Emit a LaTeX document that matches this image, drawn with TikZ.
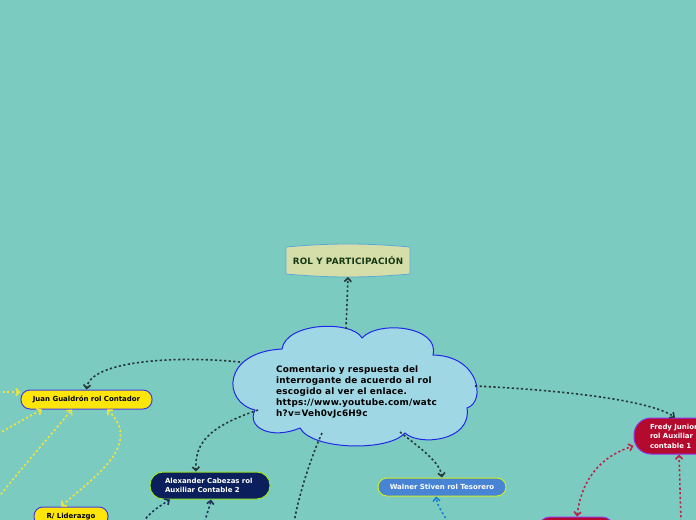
\documentclass[tikz,border=0pt]{standalone}
\usepackage{fontspec}
\setmainfont{DejaVu Sans}
\usetikzlibrary{arrows.meta}
\definecolor{bgc}{RGB}{124,203,192}
\definecolor{cloudfill}{RGB}{160,215,228}
\definecolor{cloudline}{RGB}{32,40,230}
\definecolor{rolfill}{RGB}{213,221,168}
\definecolor{rolline}{RGB}{90,170,215}
\definecolor{roltext}{RGB}{20,55,20}
\definecolor{yel}{RGB}{255,230,10}
\definecolor{yelline}{RGB}{70,60,220}
\definecolor{navy}{RGB}{10,31,92}
\definecolor{navyline}{RGB}{150,230,40}
\definecolor{bluen}{RGB}{72,132,212}
\definecolor{bluenline}{RGB}{205,235,40}
\definecolor{crim}{RGB}{180,10,45}
\definecolor{crimline}{RGB}{150,50,230}
\definecolor{darkc}{RGB}{38,56,58}
\definecolor{yelc}{RGB}{240,228,60}
\definecolor{navyc}{RGB}{30,50,90}
\definecolor{bluec}{RGB}{30,130,200}
\definecolor{crimc}{RGB}{190,35,75}
\tikzset{
  conn/.style={line width=1.6bp, dash pattern=on 2.2bp off 2.4bp},
  tip/.style={-{Straight Barb[length=3.5bp,width=7bp,line width=1.6bp]}},
  tips/.style={{Straight Barb[length=3.5bp,width=7bp,line width=1.6bp]}-{Straight Barb[length=3.5bp,width=7bp,line width=1.6bp]}},
  pill/.style={draw, line width=1bp, inner sep=0pt, font=\fontsize{7}{9.5}\selectfont\bfseries},
}
\begin{document}
\begin{tikzpicture}[x=1bp,y=-1bp]
\useasboundingbox (0,0) rectangle (696,520);
\fill[bgc] (0,0) rectangle (696,520);

% cloud
\draw[fill=cloudfill, draw=cloudline, line width=1bp]
  (255,410) .. controls (222,402) and (222,352) .. (282,349)
  .. controls (286,322) and (352,320) .. (362,338)
  .. controls (378,320) and (440,326) .. (433,355)
  .. controls (480,356) and (486,402) .. (467,408)
  .. controls (472,442) and (418,446) .. (405,433)
  .. controls (388,452) and (312,450) .. (300,428)
  .. controls (272,440) and (246,428) .. (255,410) -- cycle;
\node[anchor=north west, inner sep=0pt, align=left, font=\fontsize{8.9}{11}\selectfont\bfseries\addfontfeature{LetterSpace=2}] (cloudtext) at (276,365.5)
  {Comentario y respuesta del\\interrogante de acuerdo al rol\\escogido al ver el enlace.\\https://www.youtube.com/watc\\h?v=Veh0vJc6H9c};
\coordinate (ctop) at (346,329);
\coordinate (cleft) at (240,362);
\coordinate (cbl) at (258,410);
\coordinate (cbr) at (400,432);
\coordinate (cright) at (475,386);
\coordinate (cbot) at (322,433);

% ROL box
\draw[fill=rolfill, draw=rolline, line width=0.8bp]
  (286,247) .. controls (330,243) and (366,243) .. (410,247) -- (410,274)
  .. controls (366,278) and (330,278) .. (286,274) -- cycle;
\node[font=\fontsize{8.8}{9}\selectfont\bfseries\addfontfeature{LetterSpace=2.5}, text=roltext] (rol) at (348,260.5) {ROL Y PARTICIPACIÓN};
\coordinate (rolb) at (348,277);

% nodes
\node[pill, fill=yel, draw=yelline, minimum width=131bp, minimum height=19bp, rounded corners=9bp] (juan) at (86.5,399.5) {Juan Gualdrón rol Contador};
\node[pill, fill=navy, draw=navyline, text=white, minimum width=120bp, minimum height=27bp, rounded corners=13bp, align=left, text width=90bp] (alex) at (210,485.5) {Alexander Cabezas rol\\Auxiliar Contable 2};
\node[pill, fill=bluen, draw=bluenline, text=white, minimum width=128bp, minimum height=18bp, rounded corners=9bp] (walner) at (442,487) {Walner Stiven rol Tesorero};
\node[pill, fill=crim, draw=crimline, text=white, minimum width=90bp, minimum height=36bp, rounded corners=17bp, align=left, text width=58bp] (fredy) at (679,436) {Fredy Junior\\rol Auxiliar\\contable 1};
\node[pill, fill=yel, draw=yelline, minimum width=74bp, minimum height=19bp, rounded corners=9bp] (lider) at (71,516.5) {R/ Liderazgo};
\node[pill, fill=crim, draw=crimline, minimum width=76bp, minimum height=26bp, rounded corners=12bp] (crim2) at (576,530) {};

% dark connectors from cloud
\draw[conn, darkc, tip] (ctop) -- (rolb);
\draw[conn, darkc, tip] (cleft) .. controls (170,355) and (90,362) .. (juan.north);
\draw[conn, darkc, tip] (cbl) .. controls (205,428) and (195,445) .. (alex.north -| 196,0);
\draw[conn, darkc, tip] (cbr) .. controls (420,448) and (440,462) .. (walner.north);
\draw[conn, darkc, tip] (cright) .. controls (560,390) and (650,400) .. (fredy.north -| 675,0);
\coordinate (e1) at (294,522);
\draw[conn, darkc] (cbot) .. controls (312,455) and (300,490) .. (e1);

% yellow connectors
\coordinate (y1) at (-2,392);
\coordinate (y2) at (-2,434);
\coordinate (y3) at (-2,498);
\draw[conn, yelc, tip] (y1) -- (juan.west |- 0,392);
\draw[conn, yelc, tip] (y2) .. controls (15,424) and (30,416) .. (juan.south -| 42,0);
\draw[conn, yelc, tip] (y3) .. controls (20,470) and (55,430) .. (juan.south -| 72,0);
\draw[conn, yelc, tips] (lider.north -| 61,0) .. controls (90,480) and (145,445) .. (juan.south -| 107,0);

% navy connectors
\coordinate (n1) at (143,522);
\coordinate (n2) at (205,522);
\draw[conn, navyc, tip] (n1) .. controls (150,512) and (160,506) .. (alex.south -| 170,0);
\draw[conn, navyc, tip] (n2) .. controls (207,512) and (210,506) .. (alex.south -| 211,0);

% blue connector
\coordinate (b1) at (448,522);
\draw[conn, bluec, tip] (b1) .. controls (442,512) and (437,505) .. (walner.south -| 436,0);

% crimson connectors
\coordinate (r1) at (681,522);
\draw[conn, crimc, tips] (crim2.north -| 577,0) .. controls (582,475) and (605,455) .. (fredy.west |- 0,446);
\draw[conn, crimc, tip] (r1) -- (fredy.south -| 679,0);
\end{tikzpicture}
\end{document}
